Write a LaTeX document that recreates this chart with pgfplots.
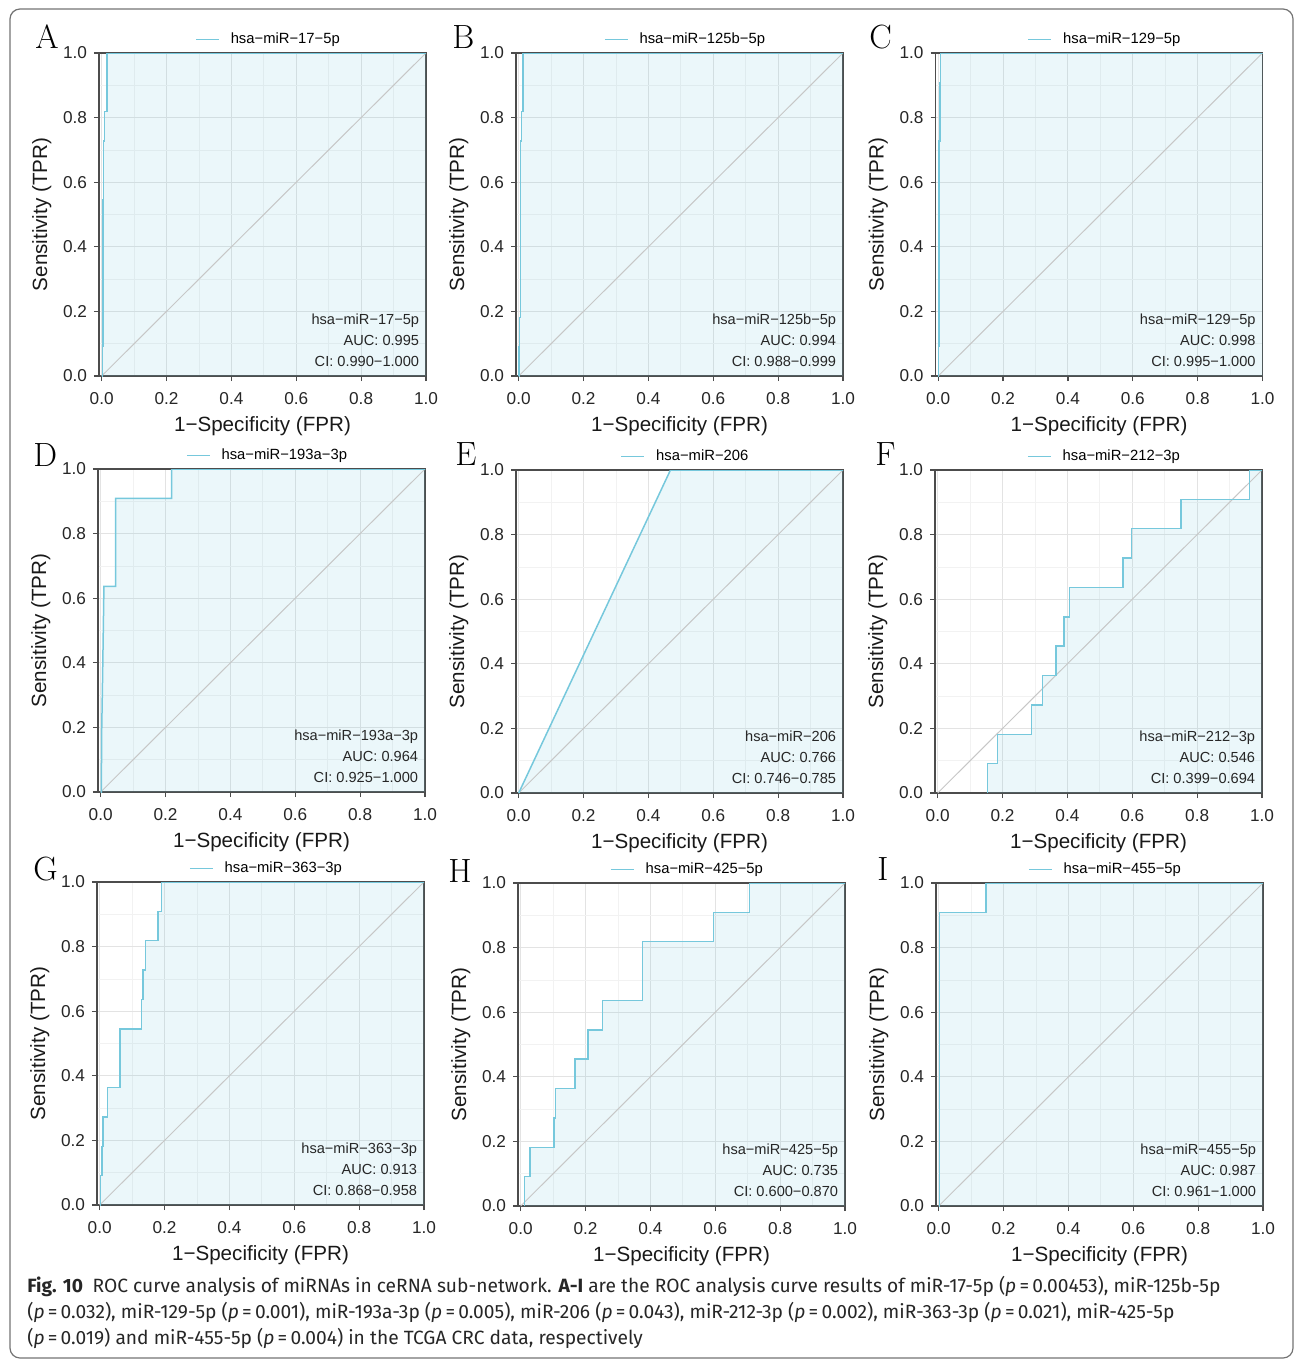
\documentclass[border=0pt]{standalone}
\usepackage{fontspec}
\setmainfont{Liberation Sans}
\newfontfamily\lettfont{Latin Modern Roman}
\newfontfamily\capfont{Fira Sans}
\usepackage{pgfplots}
\pgfplotsset{compat=1.18}
\usepackage{pgfplotstable}

\definecolor{roccol}{RGB}{118,200,220}

% ROC curves (FPR, TPR)
\pgfplotstableread{
x y
0 0
0.002 0
0.002 0.0909
0.004 0.0909
0.004 0.5455
0.006 0.5455
0.006 0.7273
0.009 0.7273
0.009 0.8182
0.016 0.8182
0.016 1
1 1
}\tabA
\pgfplotstableread{
x y
0 0
0.001 0
0.001 0.0909
0.003 0.0909
0.003 0.1818
0.005 0.1818
0.005 0.6364
0.006 0.6364
0.006 0.7273
0.008 0.7273
0.008 0.8182
0.013 0.8182
0.013 1
1 1
}\tabB
\pgfplotstableread{
x y
0 0
0.001 0
0.001 0.0909
0.003 0.0909
0.003 0.7273
0.005 0.7273
0.005 0.9091
0.007 0.9091
0.007 1
1 1
}\tabC
\pgfplotstableread{
x y
0 0
0.002 0
0.003 0.1818
0.006 0.3636
0.010 0.6364
0.046 0.6364
0.046 0.9091
0.219 0.9091
0.219 1
1 1
}\tabD
\pgfplotstableread{
x y
0 0
0.468 1
1 1
}\tabE
\pgfplotstableread{
x y
0.154 0
0.154 0.0909
0.184 0.0909
0.184 0.1818
0.289 0.1818
0.289 0.2727
0.323 0.2727
0.323 0.3636
0.365 0.3636
0.365 0.4545
0.390 0.4545
0.390 0.5455
0.406 0.5455
0.406 0.6364
0.572 0.6364
0.572 0.7273
0.598 0.7273
0.598 0.8182
0.750 0.8182
0.750 0.9091
0.961 0.9091
0.961 1
1 1
}\tabF
\pgfplotstableread{
x y
0 0
0.003 0
0.003 0.0909
0.007 0.0909
0.007 0.1818
0.010 0.1818
0.010 0.2727
0.024 0.2727
0.024 0.3636
0.063 0.3636
0.063 0.5455
0.129 0.5455
0.129 0.6364
0.133 0.6364
0.133 0.7273
0.142 0.7273
0.142 0.8182
0.180 0.8182
0.180 0.9091
0.190 0.9091
0.190 1
1 1
}\tabG
\pgfplotstableread{
x y
0.012 0
0.012 0.0909
0.029 0.0909
0.029 0.1818
0.103 0.1818
0.103 0.2727
0.108 0.2727
0.108 0.3636
0.167 0.3636
0.167 0.4545
0.208 0.4545
0.208 0.5455
0.253 0.5455
0.253 0.6364
0.376 0.6364
0.376 0.8182
0.595 0.8182
0.595 0.9091
0.705 0.9091
0.705 1
1 1
}\tabH
\pgfplotstableread{
x y
0 0
0.002 0
0.002 0.9091
0.146 0.9091
0.146 1
1 1
}\tabI

\tikzset{
  auctext/.style={anchor=base east, inner sep=0pt, font=\fontsize{7.3}{8}\selectfont, text=black!85},
  letter/.style={anchor=base west, inner sep=0pt, font=\lettfont\fontsize{16.8}{17}\selectfont},
}
\pgfplotsset{
  roc/.style={
    anchor=north west,
    scale only axis, width=163.5pt, height=161.5pt,
    xmin=-0.0083, xmax=1, ymin=0, ymax=1,
    xtick={0,0.2,0.4,0.6,0.8,1}, ytick={0,0.2,0.4,0.6,0.8,1},
    minor tick num=1,
    grid=both,
    major grid style={black!11, line width=0.5pt},
    minor grid style={black!5, line width=0.4pt},
    axis line style={black!70, line width=0.7pt},
    tick align=outside, major tick length=2.5pt, minor tick length=0pt,
    tick style={black!70, line width=0.6pt},
    xtick pos=bottom, ytick pos=left,
    tick label style={font=\fontsize{8.6}{9}\selectfont, text=black!85},
    xticklabel style={yshift=-2pt},
    /pgf/number format/fixed, /pgf/number format/fixed zerofill,
    /pgf/number format/precision=1, /pgf/number format/assume math mode=true,
    xlabel={1−Specificity (FPR)}, ylabel={Sensitivity (TPR)},
    label style={font=\fontsize{10.3}{11}\selectfont, text=black!90},
    xlabel style={at={(axis description cs:0.5,-0.155)}, anchor=center},
    ylabel style={at={(axis description cs:-0.175,0.5)}, anchor=center},
    legend style={at={(axis description cs:0.5,1)}, anchor=center, yshift=6.8pt, xshift=3.5pt,
      draw=none, fill=none, inner sep=0pt, font=\fontsize{7.4}{8}\selectfont},
    legend image code/.code={\draw[#1, line width=0.8pt] (0pt,0pt) -- (11.5pt,0pt); \path (15pt,0pt);},
  },
  rocfill/.style={draw=none, fill=roccol, fill opacity=0.15, forget plot},
  diag/.style={black!22, line width=0.5pt, forget plot},
  rocline/.style={roccol, line width=0.75pt},
}
\newcommand{\auc}[3]{%
  \node[auctext] at (rel axis cs:0.98,0.158) {#1};
  \node[auctext] at (rel axis cs:0.98,0.094) {AUC: #2};
  \node[auctext] at (rel axis cs:0.98,0.029) {CI: #3};}

\begin{document}
\begin{tikzpicture}
\useasboundingbox (0,0) rectangle (647.5pt,-680pt);
\draw[black!55, line width=0.6pt, rounded corners=5pt] (5pt,-4.5pt) rectangle (646.5pt,-679pt);

\begin{axis}[roc, at={(49.5pt,-26.5pt)}]
\addplot[rocfill] table {\tabA} \closedcycle;
\addplot[diag] coordinates {(0,0) (1,1)};
\addplot[rocline] table {\tabA};
\addlegendentry{hsa−miR−17−5p}
\auc{hsa−miR−17−5p}{0.995}{0.990−1.000}
\end{axis}

\begin{axis}[roc, at={(258pt,-26.5pt)}]
\addplot[rocfill] table {\tabB} \closedcycle;
\addplot[diag] coordinates {(0,0) (1,1)};
\addplot[rocline] table {\tabB};
\addlegendentry{hsa−miR−125b−5p}
\auc{hsa−miR−125b−5p}{0.994}{0.988−0.999}
\end{axis}

\begin{axis}[roc, at={(467.75pt,-26.5pt)}]
\addplot[rocfill] table {\tabC} \closedcycle;
\addplot[diag] coordinates {(0,0) (1,1)};
\addplot[rocline] table {\tabC};
\addlegendentry{hsa−miR−129−5p}
\auc{hsa−miR−129−5p}{0.998}{0.995−1.000}
\end{axis}

\begin{axis}[roc, at={(49pt,-234.5pt)}]
\addplot[rocfill] table {\tabD} \closedcycle;
\addplot[diag] coordinates {(0,0) (1,1)};
\addplot[rocline] table {\tabD};
\addlegendentry{hsa−miR−193a−3p}
\auc{hsa−miR−193a−3p}{0.964}{0.925−1.000}
\end{axis}

\begin{axis}[roc, at={(258pt,-235pt)}]
\addplot[rocfill] table {\tabE} \closedcycle;
\addplot[diag] coordinates {(0,0) (1,1)};
\addplot[rocline] table {\tabE};
\addlegendentry{hsa−miR−206}
\auc{hsa−miR−206}{0.766}{0.746−0.785}
\end{axis}

\begin{axis}[roc, at={(467.5pt,-235pt)}]
\addplot[rocfill] table {\tabF} \closedcycle;
\addplot[diag] coordinates {(0,0) (1,1)};
\addplot[rocline] table {\tabF};
\addlegendentry{hsa−miR−212−3p}
\auc{hsa−miR−212−3p}{0.546}{0.399−0.694}
\end{axis}

\begin{axis}[roc, at={(48.5pt,-441pt)}]
\addplot[rocfill] table {\tabG} \closedcycle;
\addplot[diag] coordinates {(0,0) (1,1)};
\addplot[rocline] table {\tabG};
\addlegendentry{hsa−miR−363−3p}
\auc{hsa−miR−363−3p}{0.913}{0.868−0.958}
\end{axis}

\begin{axis}[roc, at={(259pt,-441.5pt)}]
\addplot[rocfill] table {\tabH} \closedcycle;
\addplot[diag] coordinates {(0,0) (1,1)};
\addplot[rocline] table {\tabH};
\addlegendentry{hsa−miR−425−5p}
\auc{hsa−miR−425−5p}{0.735}{0.600−0.870}
\end{axis}

\begin{axis}[roc, at={(468pt,-441.5pt)}]
\addplot[rocfill] table {\tabI} \closedcycle;
\addplot[diag] coordinates {(0,0) (1,1)};
\addplot[rocline] table {\tabI};
\addlegendentry{hsa−miR−455−5p}
\auc{hsa−miR−455−5p}{0.987}{0.961−1.000}
\end{axis}

% panel letters
\node[letter] at (17.5pt,-24pt) {A};
\node[letter] at (226pt,-24pt) {B};
\node[letter] at (434.5pt,-24pt) {C};
\node[letter] at (16.5pt,-233pt) {D};
\node[letter] at (227.5pt,-232.5pt) {E};
\node[letter] at (437.5pt,-232.5pt) {F};
\node[letter] at (16.5pt,-440pt) {G};
\node[letter] at (224pt,-441pt) {H};
\node[letter] at (438.5pt,-440pt) {I};

% caption (base anchor = last line)
\node[anchor=base west, inner sep=0pt, align=left, text=black!85,
  font=\capfont\fontsize{9.6}{13}\selectfont] at (13.5pt,-672pt)
  {\textbf{Fig. 10}\enspace ROC curve analysis of miRNAs in ceRNA sub-network. \textbf{A-I} are the ROC analysis curve results of miR-17-5p (\textit{p}\,=\,0.00453), miR-125b-5p\\
   (\textit{p}\,=\,0.032), miR-129-5p (\textit{p}\,=\,0.001), miR-193a-3p (\textit{p}\,=\,0.005), miR-206 (\textit{p}\,=\,0.043), miR-212-3p (\textit{p}\,=\,0.002), miR-363-3p (\textit{p}\,=\,0.021), miR-425-5p\\
   (\textit{p}\,=\,0.019) and miR-455-5p (\textit{p}\,=\,0.004) in the TCGA CRC data, respectively};
\end{tikzpicture}
\end{document}
